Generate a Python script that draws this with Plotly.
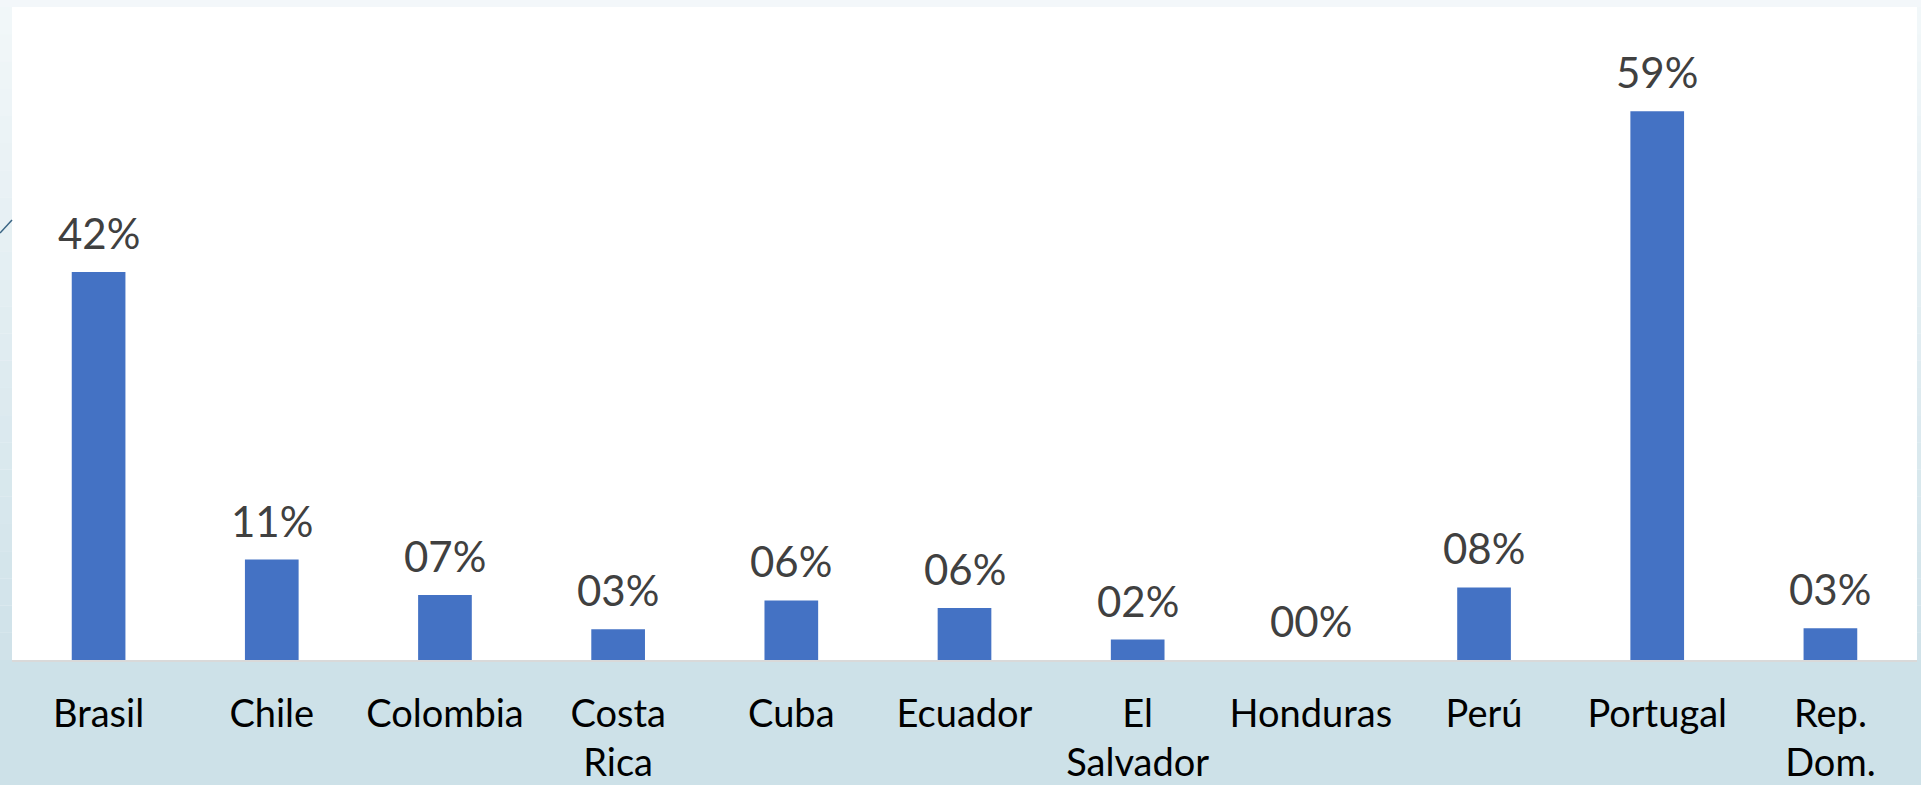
import plotly.graph_objects as go

# ---- data ----
categories = ["Brasil", "Chile", "Colombia", "Costa<br>Rica", "Cuba", "Ecuador",
              "El<br>Salvador", "Honduras", "Perú", "Portugal", "Rep.<br>Dom."]
values = [41.7, 10.8, 7.0, 3.3, 6.4, 5.6, 2.2, 0.0, 7.8, 59.0, 3.4]
labels = ["42%", "11%", "07%", "03%", "06%", "06%", "02%", "00%", "08%", "59%", "03%"]

W, H = 1921, 785
ML, MR, MT, MB = 12, 4, 7, 125
PW, PH = W - ML - MR, H - MT - MB

def px_x(p):  # pixel -> paper x
    return (p - ML) / PW

def px_y(p):  # pixel -> paper y
    return (H - MB - p) / PH

fig = go.Figure()
fig.add_trace(go.Bar(
    x=categories, y=values,
    marker=dict(color="#4472C4", line=dict(width=0)),
    width=0.31, hoverinfo="skip",
))

annotations = []
for c, v, t in zip(categories, values, labels):
    annotations.append(dict(
        x=c, y=v, xref="x", yref="y", text=t, showarrow=False,
        yanchor="bottom", xanchor="center", yshift=12,
        font=dict(family="Lato", size=42, color="#404040"),
    ))

shapes = []
# bottom label band
shapes.append(dict(type="rect", xref="paper", yref="paper",
                   x0=px_x(0), x1=px_x(W), y0=px_y(H), y1=0,
                   fillcolor="#CDE1E8", line=dict(width=0), layer="below"))
# left and right margin vertical gradient (decorative)
top_c = (0xF2, 0xF7, 0xF9)
bot_c = (0xCF, 0xE2, 0xE9)
n = 24
for i in range(n):
    f = (i + 0.5) / n
    col = "rgb({},{},{})".format(*[int(round(a + (b - a) * f)) for a, b in zip(top_c, bot_c)])
    ya = MT + PH * i / n
    yb = MT + PH * (i + 1) / n
    for xa, xb in ((0, ML), (W - MR, W)):
        shapes.append(dict(type="rect", xref="paper", yref="paper",
                           x0=px_x(xa), x1=px_x(xb), y0=px_y(yb), y1=px_y(ya),
                           fillcolor=col, line=dict(width=0), layer="below"))
# thin decorative diagonal stroke on the left edge
shapes.append(dict(type="line", xref="paper", yref="paper",
                   x0=px_x(0), y0=px_y(233), x1=px_x(12), y1=px_y(220),
                   line=dict(color="#3A6584", width=1.5)))

fig.update_layout(
    width=W, height=H,
    margin=dict(l=ML, r=MR, t=MT, b=MB, pad=0, autoexpand=False),
    paper_bgcolor="#F3F7FA", plot_bgcolor="#FFFFFF",
    showlegend=False, bargap=0.69,
    annotations=annotations, shapes=shapes,
    xaxis=dict(
        automargin=False,
        showgrid=False, zeroline=False,
        showline=True, linecolor="#D9D9D9", linewidth=2,
        ticks="", ticklabelstandoff=19,
        tickfont=dict(family="Lato", size=38, color="#000000"),
    ),
    yaxis=dict(range=[0, 70.2], visible=False, automargin=False,
               showgrid=False, zeroline=False),
)

fig.write_html(
    "out.html",
    config={"displayModeBar": False},
    post_script="document.body.style.margin='0';document.body.style.padding='0';"
                "document.body.style.overflow='hidden';",
)
